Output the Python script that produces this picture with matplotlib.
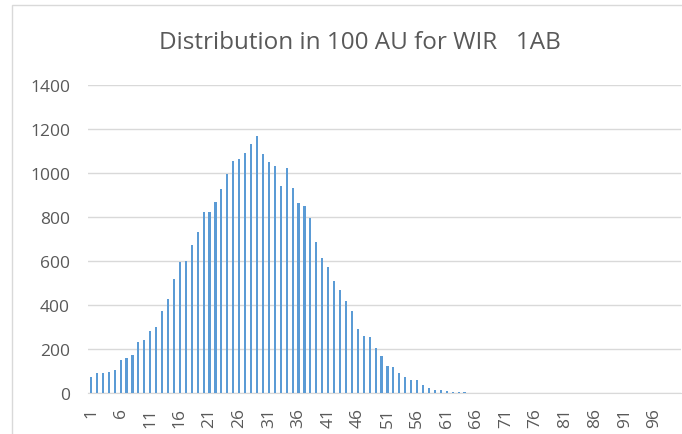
import matplotlib
matplotlib.use("Agg")
import matplotlib.pyplot as plt
from matplotlib.patches import Rectangle
import numpy as np

# bins 1..100 (AU), counts
bins = list(range(1, 101))
counts = [73, 93, 90, 94, 105, 149, 160, 175, 230, 240,
          281, 300, 373, 426, 519, 595, 599, 674, 733, 821,
          823, 870, 929, 996, 1056, 1062, 1092, 1130, 1167, 1086,
          1048, 1033, 943, 1021, 934, 862, 849, 794, 687, 613,
          573, 511, 468, 418, 373, 292, 259, 256, 204, 169,
          123, 116, 89, 71, 57, 57, 38, 23, 15, 12,
          8, 5, 4, 4, 2, 2, 1, 1, 1, 0,
          0, 0, 1, 0, 0, 0, 0, 0, 0, 0,
          0, 0, 0, 0, 0, 0, 0, 0, 0, 0,
          0, 0, 0, 0, 0, 0, 0, 0, 0, 0]
xlabels = [str(b) if (b - 1) % 5 == 0 else "" for b in bins]
title = "Distribution in 100 AU for WIR   1AB"

plt.rcParams['font.family'] = ['Open Sans', 'DejaVu Sans']
txt = '#595959'

fig = plt.figure(figsize=(6.82, 4.35), dpi=100)
renderer = fig.canvas.get_renderer()


def fit_size(s, width_px, start=12):
    # font size that makes string s about width_px wide
    t = fig.text(0, 0, s, fontsize=start)
    w = t.get_window_extent(renderer).width
    t.remove()
    return start * width_px / w


tick_fs = fit_size("1400", 40)
title_fs = fit_size(title, 400)

ax = fig.add_axes([88 / 682, 1 - 394 / 435, 593 / 682, 308 / 435])

ax.bar(bins, counts, width=0.36, color='#5b9bd5', zorder=3)

ax.set_xlim(0.5, 100.5)
ax.set_ylim(0, 1400)
ax.set_yticks(np.arange(0, 1401, 200))
ax.set_xticks(bins)
ax.set_xticklabels(xlabels, rotation=90, fontsize=tick_fs, color=txt)
ax.tick_params(axis='x', length=0, pad=10)
ax.tick_params(axis='y', length=0, pad=13, labelsize=tick_fs, labelcolor=txt)

ax.grid(axis='y', color='#d9d9d9', linewidth=1, zorder=0)
for s in ['top', 'right', 'left']:
    ax.spines[s].set_visible(False)
ax.spines['bottom'].set_color('#d9d9d9')

fig.text(360 / 682, 1 - 43 / 435, title, ha='center', va='center',
         fontsize=title_fs, color=txt)

# chart frame
fig.patches.append(Rectangle((12 / 682, -0.1), 1.0, 1 - 6 / 435 + 0.1,
                             transform=fig.transFigure, fill=False,
                             edgecolor='#d9d9d9', linewidth=1))

fig.savefig('out.png', dpi=100)
